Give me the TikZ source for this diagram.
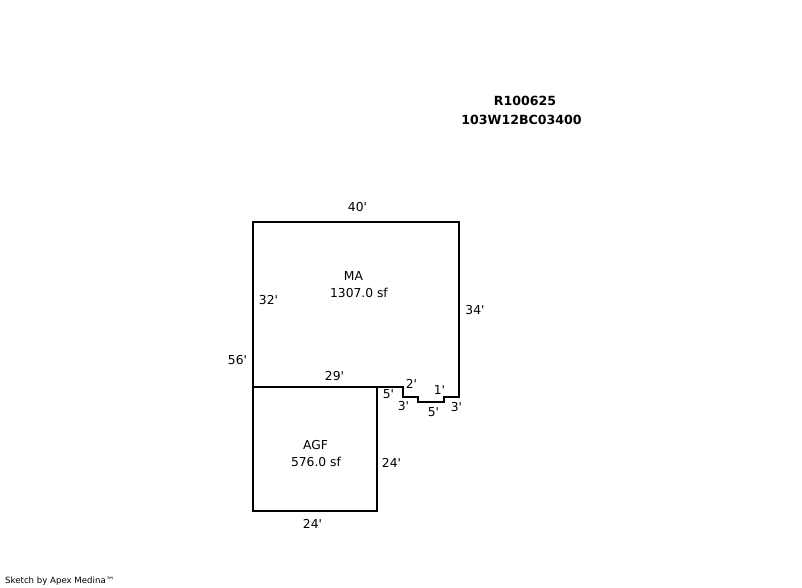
\documentclass[tikz,border=0pt]{standalone}
\usepackage{fontspec}
\newfontfamily\plainsans[Ligatures=ResetAll]{DejaVu Sans}
\tikzset{
  px/.style={x=1pt,y=-1pt},
  wall/.style={draw=black,line width=2.2pt,line join=miter},
  lbl/.style={inner sep=0pt,xshift=.5pt,yshift=-.5pt,font=\plainsans\fontsize{12.3}{14}\selectfont,text=black},
  ttl/.style={inner sep=0pt,font=\plainsans\fontsize{12.6}{14}\selectfont\bfseries,text=black},
  credit/.style={inner sep=0pt,font=\plainsans\fontsize{8.6}{10}\selectfont,text=black}
}
\begin{document}
\begin{tikzpicture}[px]
\useasboundingbox[fill=white] (0,0) rectangle (802,588);
\draw[wall] (253,222) -- (459,222) -- (459,397) -- (444,397) -- (444,402) -- (418,402) -- (418,397) -- (403,397) -- (403,387) -- (253,387) -- cycle;
\draw[wall] (253,387) -- (377,387) -- (377,511) -- (253,511) -- cycle;
\node[ttl] (t1) at (525,100.5) {R100625};
\node[ttl] (t2) at (521.5,120) {103W12BC03400};
\node[lbl] (a) at (357,207) {40\char39};
\node[lbl] (b) at (268,300) {32\char39};
\node[lbl] (c) at (474.5,310) {34\char39};
\node[lbl] (d) at (237,360) {56\char39};
\node[lbl] (e) at (334,376) {29\char39};
\node[lbl] (f) at (411,383) {2\char39};
\node[lbl] (g) at (439,390) {1\char39};
\node[lbl] (h) at (388,394) {5\char39};
\node[lbl] (i) at (403,406) {3\char39};
\node[lbl] (j) at (433,412) {5\char39};
\node[lbl] (k) at (456,407) {3\char39};
\node[lbl] (l) at (391,462) {24\char39};
\node[lbl] (m) at (312,523) {24\char39};
\node[lbl] (n) at (353,276) {MA};
\node[lbl] (o) at (358.5,292) {1307.0 sf};
\node[lbl] (p) at (315,445) {AGF};
\node[lbl] (q) at (315.5,461) {576.0 sf};
\node[credit,anchor=west] (r) at (5,581) {Sketch by Apex Medina™};
\end{tikzpicture}
\end{document}
